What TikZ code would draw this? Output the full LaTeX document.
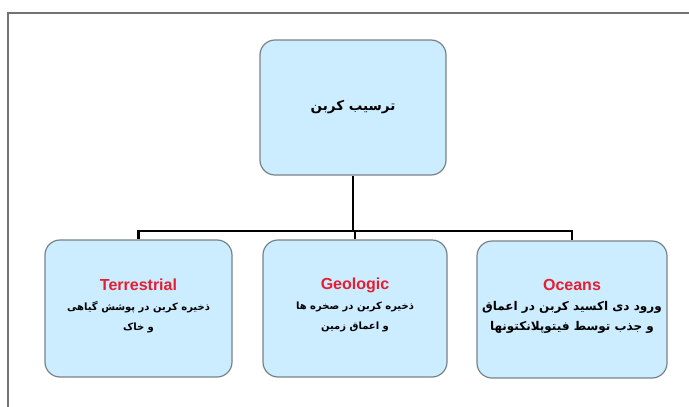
\documentclass[tikz,border=0pt]{standalone}
\usepackage{fontspec}
\setmainfont{Liberation Sans}
\newfontfamily\arabicfont[Script=Arabic]{DejaVu Sans}
\TeXXeTstate=1
\usetikzlibrary{positioning,calc}
\definecolor{BoxBlue}{RGB}{204,236,255}
\definecolor{BoxEdge}{RGB}{120,130,135}
\definecolor{TagRed}{RGB}{230,30,50}
\tikzset{card/.style={draw=BoxEdge,fill=BoxBlue,line width=1.2pt,rounded corners=15pt,align=center,inner sep=2pt},
link/.style={draw=black,line width=2.2pt},
tag/.style={font=\bfseries\fontsize{16}{20}\selectfont,text=TagRed},
fa/.style={font=\arabicfont\bfseries\fontsize{10}{20}\selectfont,align=center},
fawide/.style={font=\arabicfont\bfseries\fontsize{12}{20}\selectfont,align=center}}

\begin{document}
\begin{tikzpicture}[x=1pt,y=-1pt]
\useasboundingbox (0,0) rectangle (689,407);
% frame
\draw[draw=black!55,line width=2pt] (689,13) -- (8,13) -- (8,407);
\node[card,minimum width=186pt,minimum height=135pt] (root) at (353,107.5) {};
\node[card,minimum width=187pt,minimum height=137pt] (terr) at (138.5,308.5) {};
\node[card,minimum width=184pt,minimum height=137pt] (geo) at (355,308.5) {};
\node[card,minimum width=190pt,minimum height=137pt] (ocean) at (572,309.5) {};
\coordinate (bus) at (353,231);
% texts
\node[fawide,font=\arabicfont\bfseries\fontsize{13.5}{20}\selectfont] (roott) at (353,107) {\beginR ترسیب کربن\endR};
\node[tag] (terrt) at (138.5,285) {Terrestrial};
\node[fa] (terrf) at (138.5,317) {\beginR ذخیره کربن در پوشش گیاهی\endR\\\beginR و خاک\endR};
\node[tag] (geot) at (355,285) {Geologic};
\node[fa] (geof) at (355,317) {\beginR ذخیره کربن در صخره ها\endR\\\beginR و اعماق زمین\endR};
\node[tag] (oceant) at (572,285) {Oceans};
\node[fawide] (oceanf) at (572,317) {\beginR ورود دی اکسید کربن در اعماق\endR\\\beginR و جذب توسط فیتوپلانکتونها\endR};
% tree
\draw[link] (root.south) -- (bus);
\draw[link] (terr.north) |- (bus) -| (ocean.north);
\draw[link] (geo.north) -- (geo.north |- bus);
\end{tikzpicture}
\end{document}
